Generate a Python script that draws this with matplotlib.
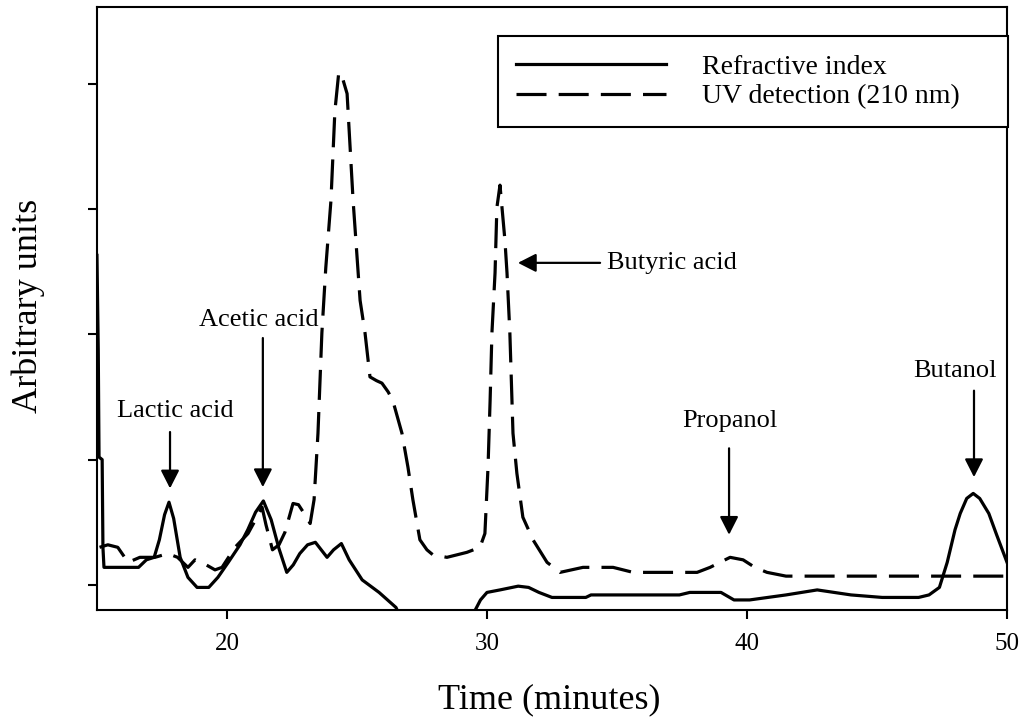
import matplotlib
matplotlib.use("Agg")
import matplotlib.pyplot as plt

plt.rcParams['font.family'] = ['Liberation Serif', 'DejaVu Serif']

# refractive index trace (time in minutes, arbitrary units)
ri_time = [15.0, 15.05, 15.08, 15.2, 15.23, 15.27, 16.6, 16.9, 17.2, 17.4, 17.6, 17.77, 17.95,
           18.2, 18.5, 18.85, 19.3, 19.65, 20.05, 20.5, 20.8, 21.1, 21.4, 21.7, 22.0, 22.3,
           22.55, 22.8, 23.1, 23.4, 23.85, 24.1, 24.4, 24.7, 25.2, 25.85, 26.5, 26.8, 27.5,
           29.0, 29.4, 29.55, 29.75, 30.0, 30.5, 31.2, 31.6, 32.0, 32.5, 33.8, 34.0, 37.4,
           37.8, 39.0, 39.5, 40.1, 41.5, 42.7, 44.0, 45.2, 46.6, 47.0, 47.4, 47.7, 48.0,
           48.2, 48.45, 48.7, 48.95, 49.3, 49.6, 50.0]
ri_signal = [2.63, 1.87, 1.02, 1.00, 0.30, 0.14, 0.14, 0.20, 0.22, 0.36, 0.56, 0.66, 0.53,
             0.22, 0.06, -0.02, -0.02, 0.06, 0.18, 0.32, 0.44, 0.58, 0.67, 0.52, 0.29, 0.10,
             0.16, 0.25, 0.32, 0.34, 0.22, 0.28, 0.33, 0.20, 0.04, -0.06, -0.18, -0.32, -0.60,
             -0.60, -0.29, -0.20, -0.12, -0.06, -0.04, -0.01, -0.02, -0.06, -0.10, -0.10, -0.08, -0.08,
             -0.06, -0.06, -0.12, -0.12, -0.08, -0.04, -0.08, -0.10, -0.10, -0.08, -0.02, 0.18, 0.44,
             0.57, 0.69, 0.73, 0.69, 0.57, 0.40, 0.18]

# UV detection trace (210 nm)
uv_time = [15.1, 15.42, 15.8, 16.2, 16.65, 17.23, 17.73, 18.1, 18.5, 18.77, 19.2, 19.54, 19.81,
           20.31, 20.81, 21.1, 21.35, 21.5, 21.75, 22.0, 22.23, 22.54, 22.75, 23.0, 23.2, 23.35,
           23.5, 23.65, 23.8, 24.0, 24.15, 24.3, 24.45, 24.62, 24.85, 25.12, 25.31, 25.5, 25.75,
           25.96, 26.2, 26.38, 26.73, 26.96, 27.15, 27.42, 27.69, 27.92, 28.46, 29.23, 29.73,
           29.92, 30.04, 30.12, 30.19, 30.31, 30.38, 30.5, 30.69, 30.77, 30.88, 31.0, 31.15,
           31.38, 31.77, 32.31, 32.81, 33.69, 34.85, 35.62, 37.04, 38.08, 38.58, 39.35, 39.85,
           40.3, 40.77, 41.5, 50.0]
uv_signal = [0.30, 0.32, 0.30, 0.18, 0.22, 0.22, 0.25, 0.22, 0.14, 0.20, 0.16, 0.12, 0.14,
             0.30, 0.41, 0.52, 0.62, 0.48, 0.28, 0.32, 0.42, 0.65, 0.64, 0.56, 0.49, 0.68,
             1.21, 2.01, 2.53, 3.07, 3.78, 4.09, 4.04, 3.92, 3.07, 2.27, 2.01, 1.66, 1.63,
             1.61, 1.54, 1.47, 1.21, 0.94, 0.68, 0.36, 0.28, 0.24, 0.22, 0.26, 0.30,
             0.41, 0.94, 1.47, 2.01, 2.49, 3.01, 3.19, 2.75, 2.49, 2.01, 1.21, 0.89,
             0.54, 0.36, 0.18, 0.10, 0.14, 0.14, 0.10, 0.10, 0.10, 0.14, 0.22, 0.20,
             0.14, 0.10, 0.07, 0.07]

# peak labels: name, arrow tip, arrow tail, text position
peak_names = ["Lactic acid", "Acetic acid", "Butyric acid", "Propanol", "Butanol"]
tip_xy = [(17.81, 0.77), (21.38, 0.78), (31.19, 2.57), (39.31, 0.40), (48.73, 0.86)]
tail_xy = [(17.81, 1.22), (21.38, 1.97), (34.35, 2.57), (39.31, 1.09), (48.73, 1.55)]
text_xy = [(18.0, 1.39), (21.23, 2.11), (34.62, 2.57), (39.35, 1.31), (48.0, 1.71)]
text_ha = ["center", "center", "left", "center", "center"]

fig = plt.figure(figsize=(10.26, 7.21), dpi=100)
ax = fig.add_axes([0.0945, 0.154, 0.887, 0.836])

ax.plot(ri_time, ri_signal, color="black", lw=2.3, solid_joinstyle="round",
        label="Refractive index")
ax.plot(uv_time, uv_signal, color="black", lw=2.3, linestyle=(0, (9.4, 3.8)),
        dash_joinstyle="round", label="UV detection (210 nm)")

for name, tip, tail, txt, ha in zip(peak_names, tip_xy, tail_xy, text_xy, text_ha):
    ax.annotate("", xy=tip, xytext=tail,
                arrowprops=dict(arrowstyle="-|>,head_length=0.55,head_width=0.28",
                                mutation_scale=20, color="black", lw=1.6,
                                shrinkA=0, shrinkB=0))
    ax.text(txt[0], txt[1], name, ha=ha, va="center", fontsize=19)

ax.set_xlim(15, 50)
ax.set_ylim(-0.2, 4.61)
ax.set_xticks([20, 30, 40, 50])
ax.set_yticks([0, 1, 2, 3, 4])
ax.set_yticklabels([])
ax.tick_params(direction="out", length=6.5, width=1.5, labelsize=18, pad=10)
for s in ax.spines.values():
    s.set_linewidth(1.5)

ax.set_xlabel("Time (minutes)", fontsize=26)
ax.xaxis.set_label_coords(0.497, -0.149)
ax.xaxis.label.set_va("center")
ax.set_ylabel("Arbitrary units", fontsize=26)
ax.yaxis.set_label_coords(-0.076, 0.504)
ax.yaxis.label.set_va("center")

leg = ax.legend(loc="upper left", bbox_to_anchor=(0.4407, 0.952, 0.56, 0.0), mode="expand",
                borderaxespad=0, fontsize=20, handlelength=5.4, handletextpad=1.3,
                borderpad=0.65, labelspacing=0.15, fancybox=False, framealpha=1)
leg.get_frame().set_edgecolor("black")
leg.get_frame().set_linewidth(1.5)

fig.savefig("out.png", dpi=100)
